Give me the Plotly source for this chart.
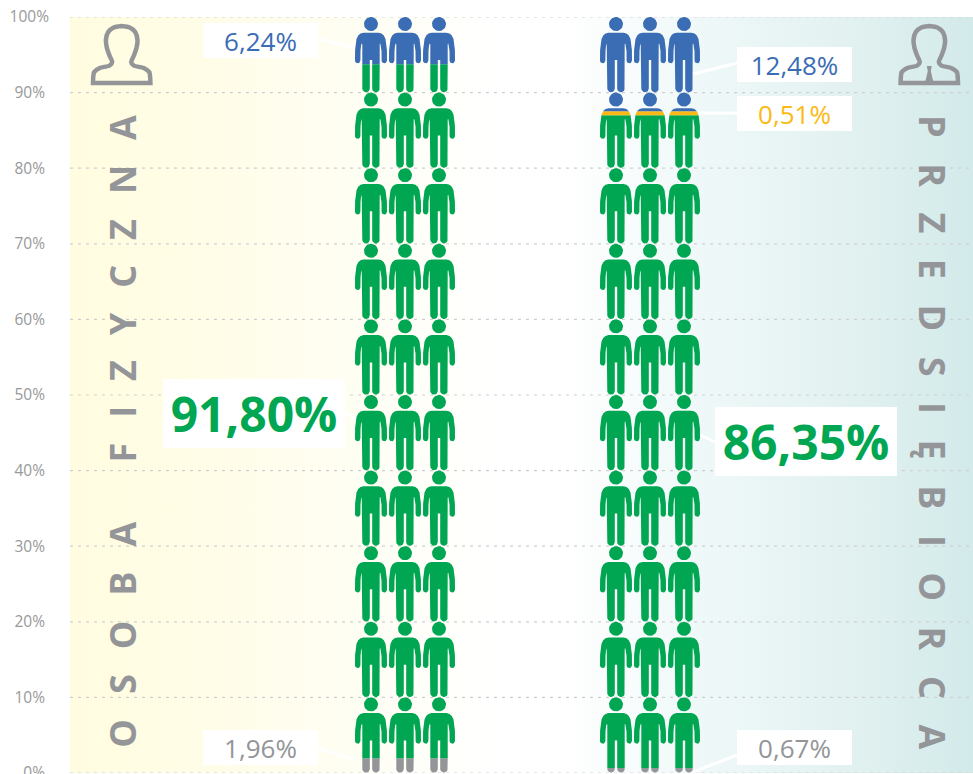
import plotly.graph_objects as go
import numpy as np

# ---------- data ----------
y_ticks = [0, 10, 20, 30, 40, 50, 60, 70, 80, 90, 100]
tick_labels = ["0%", "10%", "20%", "30%", "40%", "50%", "60%", "70%", "80%", "90%", "100%"]

left_segments = [("Pozostałe", 1.96, "#939598"), ("Zielony", 91.80, "#00A651"), ("Niebieski", 6.24, "#3B6DB5")]
right_segments = [("Pozostałe", 0.67, "#939598"), ("Zielony", 86.35, "#00A651"),
                  ("Żółty", 0.51, "#FDB913"), ("Niebieski", 12.48, "#3B6DB5")]
left_centers = [371, 405, 439]
right_centers = [616, 650, 684]
PX_PER_PCT = 7.56
ROW_PCT = 10

GREY, GREEN, BLUE, YELLOW = "#939598", "#00A651", "#3B6DB5", "#FDB913"


def arc(cx, cy, r, a0, a1, n=10):
    t = np.radians(np.linspace(a0, a1, n))
    return [(cx + r * np.cos(a), cy + r * np.sin(a)) for a in t]


def person_parts():
    head = arc(0, 7, 7, 0, 360, 28)
    right = [(0, 15.7), (7.5, 15.7), (10.5, 16.5), (12.8, 18.5), (14.5, 22), (15.4, 27), (15.9, 33), (16, 43.6)]
    right += arc(13.3, 43.6, 2.7, 0, 180, 8)
    right += [(10.5, 34), (10, 29), (9.3, 26.5), (8.7, 27), (8.7, 71.5)]
    right += arc(4.95, 71.5, 3.75, 0, 180, 10)
    right += [(1.2, 43), (0, 43)]
    left = [(-x, y) for x, y in reversed(right)]
    return [head, right + left]


def clip_band(poly, lo, hi):
    """Clip polygon (x, y) to lo <= y <= hi."""
    def clip(pts, inside, cut):
        out = []
        for i, p in enumerate(pts):
            q = pts[(i + 1) % len(pts)]
            if inside(p):
                out.append(p)
            if inside(p) != inside(q):
                t = (cut - p[1]) / (q[1] - p[1])
                out.append((p[0] + t * (q[0] - p[0]), cut))
        return out
    pts = clip(poly, lambda p: p[1] >= lo, lo)
    if pts:
        pts = clip(pts, lambda p: p[1] <= hi, hi)
    return pts


def column_traces(centers, segments):
    parts = person_parts()
    traces = []
    base = 0
    for name, val, col in segments:
        lo, hi = base, base + val
        base = hi
        xs, ys = [], []
        for row in range(10):
            top = (row + 1) * ROW_PCT
            for cx in centers:
                for part in parts:
                    poly = [(cx + px, top - py / PX_PER_PCT) for px, py in part]
                    c = clip_band(poly, lo, hi)
                    if len(c) > 2:
                        xs += [p[0] for p in c] + [c[0][0], None]
                        ys += [p[1] for p in c] + [c[0][1], None]
        traces.append(go.Scatter(x=xs, y=ys, mode="lines", fill="toself", fillcolor=col,
                                 line=dict(width=0), hoverinfo="skip", showlegend=False, name=name))
    return traces


fig = go.Figure()

# background gradient
fig.add_trace(go.Scatter(
    x=[70, 973, 973, 70, 70], y=[0, 0, 100, 100, 0], mode="lines", line=dict(width=0), fill="toself",
    fillgradient=dict(type="horizontal", colorscale=[
        [0, "#FFFCE0"], [0.12, "#FFFDE5"], [0.3, "#FFFEF2"], [0.47, "#FFFFFF"], [0.55, "#FFFFFF"],
        [0.7, "#EFF8F8"], [0.85, "#E3F2F1"], [1, "#D3EAEA"]]),
    hoverinfo="skip", showlegend=False))

# grid
gx, gy = [], []
for t in y_ticks:
    gx += [70, 973, None]
    gy += [t, t, None]
fig.add_trace(go.Scatter(x=gx, y=gy, mode="lines", line=dict(color="#CFCFD1", width=1.2, dash="3px,5px"),
                         hoverinfo="skip", showlegend=False, cliponaxis=False))

# leader lines
def pct(py):
    return (773 - py) / PX_PER_PCT

leaders = [((318, 39), (355, 48)), ((318, 748), (355, 760)), ((737, 63), (693, 74)),
           ((737, 113), (693, 113)), ((737, 755), (693, 772)), ((715, 442), (700, 435)),
           ((345, 412), (357, 420))]
for (x0, y0), (x1, y1) in leaders:
    fig.add_trace(go.Scatter(x=[x0, x1], y=[pct(y0), pct(y1)], mode="lines", line=dict(color="white", width=3),
                             hoverinfo="skip", showlegend=False))

for tr in column_traces(left_centers, left_segments) + column_traces(right_centers, right_segments):
    fig.add_trace(tr)

# icons
def outline(cx):
    r = [(0, 0), (8, 1.5), (13.5, 6), (15.8, 14), (14.8, 22), (12, 30), (9.5, 36), (12, 39.5), (22, 42),
         (27.5, 46), (28.7, 57), (28.7, 57), (28.7, 57)]
    pts = r + [(-x, y) for x, y in reversed(r)] + [(0, 0)]
    return [cx + p[0] for p in pts], [pct(26 + p[1]) for p in pts]

for cx in (121.7, 929.3):
    xs, ys = outline(cx)
    fig.add_trace(go.Scatter(x=xs, y=ys, mode="lines", line=dict(color=GREY, width=4.5, shape="spline", smoothing=0.7),
                             hoverinfo="skip", showlegend=False))
    if cx > 500:
        tx = [-2.5, 2.5, 1.5, 4.5, -4.5, -1.5, -2.5]
        ty = [66, 66, 71, 84, 84, 71, 66]
        fig.add_trace(go.Scatter(x=[cx + a for a in tx], y=[pct(b) for b in ty], mode="lines", fill="toself",
                                 fillcolor=GREY, line=dict(width=0), hoverinfo="skip", showlegend=False))

def label(text, x, py, w, h, color, size, bold=False):
    fig.add_annotation(x=x, y=pct(py), text=f"<b>{text}</b>" if bold else text, showarrow=False, width=w, height=h,
                       bgcolor="white", align="center", valign="middle", borderpad=0, borderwidth=0,
                       font=dict(family="Open Sans", size=size, color=color))

label("6,24%", 260.5, 40.5, 115, 35, BLUE, 26)
label("1,96%", 260.5, 747, 115, 35, GREY, 26)
label("12,48%", 794.5, 64.5, 115, 35, BLUE, 26)
label("0,51%", 794.5, 113.5, 115, 35, YELLOW, 26)
label("0,67%", 794.5, 747, 115, 35, GREY, 26)
label("91,80%", 254, 413.5, 182, 69, GREEN, 48, True)
label("86,35%", 806, 441.5, 182, 69, GREEN, 48, True)

nb = "\u00a0"
def gap(size):
    return f'<span style="font-size:{size}px">{nb}{nb}{nb}</span>'

sl = gap(32)
fig.add_annotation(x=121.7, y=pct(431), text="<b>" + sl.join("OSOBA") + sl + sl + nb + sl.join("FIZYCZNA") + "</b>",
                   showarrow=False, textangle=-90, font=dict(family="Open Sans", size=36, color=GREY))
sr = gap(32.75)
fig.add_annotation(x=933, y=pct(432), text="<b>" + sr.join("PRZEDSIĘBIORCA") + "</b>",
                   showarrow=False, textangle=90, font=dict(family="Open Sans", size=36, color=GREY))

fig.update_layout(
    width=973, height=774, margin=dict(l=70, r=0, t=17, b=1, autoexpand=False), autosize=False,
    paper_bgcolor="white", plot_bgcolor="white", showlegend=False,
    xaxis=dict(range=[70, 973], visible=False, fixedrange=True),
    yaxis=dict(range=[0, 100], tickvals=y_ticks, ticktext=[t + nb for t in tick_labels[:-1]] + [tick_labels[-1]],
               showgrid=False, zeroline=False, showline=False, ticks="", ticklabelstandoff=20,
               ticklabeloverflow="allow", automargin=False,
               tickfont=dict(family="Open Sans", size=15.5, color="#999999"), fixedrange=True),
)
fig.write_html("out.html", config={"displayModeBar": False}, post_script="document.body.style.margin='0';")
